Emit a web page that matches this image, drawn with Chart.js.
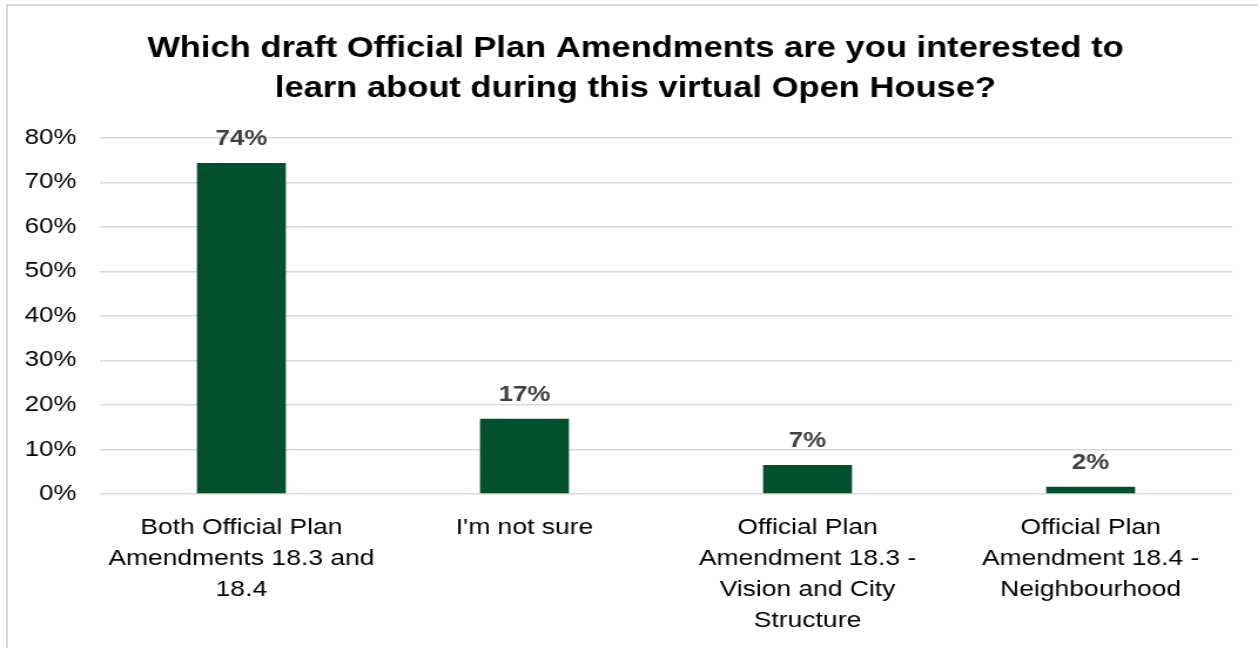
<!DOCTYPE html>
<html>
<head>
<meta charset="utf-8">
<title>Official Plan Amendments survey</title>
<script src="https://cdn.jsdelivr.net/npm/chart.js@4.4.1/dist/chart.umd.min.js"></script>
<style>
    html, body { margin: 0; padding: 0; background: #fff; overflow: hidden; }
    #frame {
        position: absolute; left: 6px; top: 4px; width: 1400px; height: 800px;
        border-left: 2px solid #d9d9d9; border-top: 2px solid #d9d9d9;
        pointer-events: none;
    }
    /* chart is laid out narrower and stretched to full width */
    #wrap {
        position: absolute; left: 0; top: 0; width: 1071px; height: 648px;
        transform: scaleX(1.1746); transform-origin: 0 0;
    }
</style>
</head>
<body>
<div id="wrap"><canvas id="surveyChart" width="1071" height="648"></canvas></div>
<div id="frame"></div>
<script>
var titleLines = [
    "Which draft Official Plan Amendments are you interested to",
    "learn about during this virtual Open House?"
];
var categories = [
    ["Both Official Plan", "Amendments 18.3 and", "18.4"],
    ["I'm not sure"],
    ["Official Plan", "Amendment 18.3 -", "Vision and City", "Structure"],
    ["Official Plan", "Amendment 18.4 -", "Neighbourhood"]
];
var responses = [74.3, 16.9, 6.5, 1.6];
var yTicks = [0, 10, 20, 30, 40, 50, 60, 70, 80];

var fontFamily = 'Arial, "Liberation Sans", sans-serif';

// Percent labels above each bar
var barLabels = {
    id: "barLabels",
    afterDatasetsDraw: function (chart) {
        var ctx = chart.ctx;
        var meta = chart.getDatasetMeta(0);
        ctx.save();
        ctx.font = "bold 22px " + fontFamily;
        ctx.fillStyle = "#404040";
        ctx.textAlign = "center";
        ctx.textBaseline = "alphabetic";
        meta.data.forEach(function (bar, i) {
            ctx.fillText(Math.round(responses[i]) + "%", bar.x, bar.y - 18);
        });
        ctx.restore();
    }
};

// Title sits centred a little right of the canvas middle
var titleShift = {
    id: "titleShift",
    afterLayout: function (chart) {
        if (chart.titleBlock) {
            chart.titleBlock.left += 33;
        }
    }
};

var ctx = document.getElementById("surveyChart").getContext("2d");
var surveyChart = new Chart(ctx, {
    type: "bar",
    data: {
        labels: categories,
        datasets: [{
            data: responses,
            backgroundColor: "#03502f",
            borderWidth: 0,
            barPercentage: 1,
            categoryPercentage: 0.314
        }]
    },
    options: {
        responsive: false,
        animation: false,
        layout: { padding: { left: 0, right: 22, top: 0, bottom: 0 } },
        plugins: {
            legend: { display: false },
            tooltip: { enabled: false },
            title: {
                display: true,
                text: titleLines,
                color: "#000",
                font: { family: fontFamily, size: 29.4, weight: "bold", lineHeight: 1.39 },
                padding: { top: 28, bottom: 28 }
            }
        },
        scales: {
            x: {
                grid: { display: false, drawTicks: false },
                border: { display: false },
                ticks: {
                    color: "#000",
                    padding: 18,
                    maxRotation: 0,
                    autoSkip: false,
                    font: { family: fontFamily, size: 22.5, lineHeight: 1.38 }
                },
                afterFit: function (scale) { scale.height = 154; }
            },
            y: {
                min: yTicks[0],
                max: yTicks[yTicks.length - 1],
                afterBuildTicks: function (scale) {
                    scale.ticks = yTicks.map(function (v) { return { value: v }; });
                },
                grid: { color: "#d9d9d9", lineWidth: 1.5, drawTicks: false },
                border: { display: false },
                ticks: {
                    color: "#000",
                    padding: 20,
                    font: { family: fontFamily, size: 22 },
                    callback: function (value) { return value + "%"; }
                },
                afterFit: function (scale) { scale.width = 85; }
            }
        }
    },
    plugins: [barLabels, titleShift]
});
</script>
</body>
</html>
